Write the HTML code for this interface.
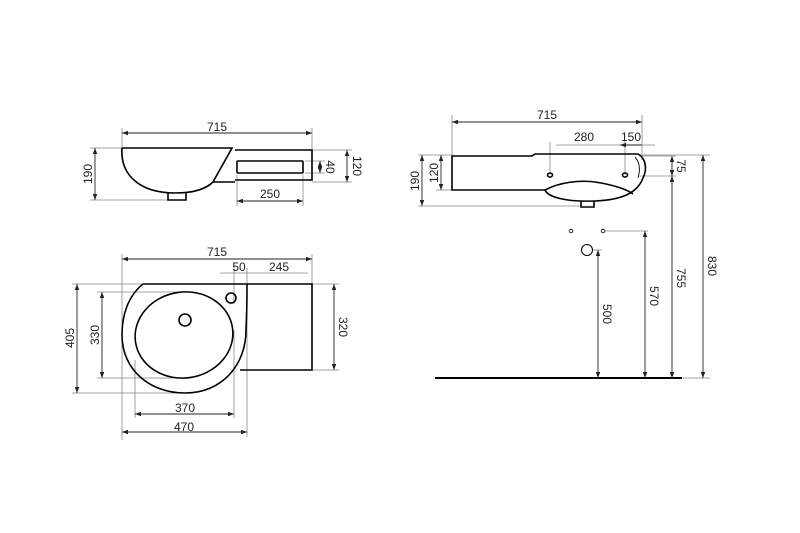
<!DOCTYPE html>
<html><head><meta charset="utf-8"><style>body{margin:0;background:#fff}svg{display:block}text{font-family:"Liberation Sans",sans-serif;font-size:12px;fill:#222}</style></head><body>
<svg width="800" height="533" viewBox="0 0 800 533" xmlns="http://www.w3.org/2000/svg">
<defs>
<marker id="a" viewBox="0 0 8 6" refX="8" refY="3" markerWidth="7" markerHeight="5" orient="auto-start-reverse"><path d="M0,0L8,3L0,6z" fill="#222"/></marker>
</defs>
<g stroke="#888" stroke-width="0.8" fill="none">
<path d="M122 128V148M312 128V175M90 148H122M90 200H185M305 161H325M305 173H325M312 150H352M312 182H352M237 175V206M303 175V206"/>
<path d="M122 254V440M312 254V284M220 273H308M234 262V304M247 268V437M72 284H143M72 393H190M97 292H180M97 378H185M135 360V418M234 330V418M312 284H339M312 370H339"/>
<path d="M452 115V165M642 115V160M556 145H655M550 142V175M625 140V175M418 155H452M418 206H580M436 155H452M436 190H452M640 156H676M640 176H676M640 155H710M605 231H648M592 250H602M680 378H710"/>
</g>
<g stroke="#222" stroke-width="0.9" fill="none" marker-start="url(#a)" marker-end="url(#a)">
<path d="M122 133H312"/><path d="M95 148V200"/><path d="M320 161V173"/><path d="M347 150V182"/><path d="M237 201H303"/>
<path d="M122 259H312"/><path d="M77 284V393"/><path d="M102 292V378"/><path d="M334 284V370"/><path d="M135 414H234"/><path d="M122 432H247"/>
<path d="M452 122H642"/><path d="M422 155V206"/><path d="M441 155V190"/><path d="M672 156V176"/><path d="M703 155V378"/><path d="M672 176V378"/><path d="M645 231V378"/><path d="M598 250V378"/>
</g>
<path d="M620 145H642" stroke="#222" stroke-width="0.9" marker-start="url(#a)"/>
<g stroke="#000" stroke-width="1.6" fill="none">
<path d="M122 148H232L213 182H235M235 180H312V150H235"/>
<path d="M122 148C120 175 140 193 175 193C195 193 207 188 213 182"/>
<path d="M168 193V200H186V193"/>
<rect x="237" y="161" width="66" height="12" rx="1"/>
<path d="M143 284H312V370H240"/>
<path d="M143 284C128 296 122 315 122 335C122 370 150 393 185 393C222 393 246 365 246 330C247 310 247 295 247 284"/>
<ellipse cx="184" cy="335" rx="49" ry="43" transform="rotate(-8 184 335)"/>
<circle cx="185" cy="320" r="6"/>
<circle cx="231" cy="298" r="5"/>
<path d="M452 156H532L535 154H638C648 160 646 172 643 178C637 194 620 200 595 201C565 202 548 197 545 190H452Z"/>
<path d="M545 190C560 182 580 180 595 182C615 185 628 190 633 194"/>
<path d="M581 201V207H594V201"/>
<ellipse cx="550" cy="175" rx="2.5" ry="2"/><ellipse cx="625" cy="175" rx="2.5" ry="2"/>
<path d="M635 157Q642 165 638 178" stroke-width="0.9"/>
<circle cx="587" cy="250" r="5.5" stroke-width="1"/>
<circle cx="571" cy="231" r="1.8" stroke-width="0.8"/><circle cx="603" cy="231" r="1.8" stroke-width="0.8"/>
<path d="M435 378H682" stroke-width="2"/>
</g>
<text x="217" y="131" text-anchor="middle">715</text>
<text x="270" y="198" text-anchor="middle">250</text>
<text transform="translate(92 174) rotate(-90)" text-anchor="middle">190</text>
<text transform="translate(326 167) rotate(90)" text-anchor="middle">40</text>
<text transform="translate(353 166) rotate(90)" text-anchor="middle">120</text>
<text x="217" y="256" text-anchor="middle">715</text>
<text x="239" y="271" text-anchor="middle">50</text>
<text x="279" y="271" text-anchor="middle">245</text>
<text transform="translate(74 338) rotate(-90)" text-anchor="middle">405</text>
<text transform="translate(99 335) rotate(-90)" text-anchor="middle">330</text>
<text transform="translate(339 327) rotate(90)" text-anchor="middle">320</text>
<text x="185" y="412" text-anchor="middle">370</text>
<text x="184" y="431" text-anchor="middle">470</text>
<text x="547" y="119" text-anchor="middle">715</text>
<text x="584" y="141" text-anchor="middle">280</text>
<text x="631" y="141" text-anchor="middle">150</text>
<text transform="translate(419 181) rotate(-90)" text-anchor="middle">190</text>
<text transform="translate(438 173) rotate(-90)" text-anchor="middle">120</text>
<text transform="translate(677 166) rotate(90)" text-anchor="middle">75</text>
<text transform="translate(603 314) rotate(90)" text-anchor="middle">500</text>
<text transform="translate(650 296) rotate(90)" text-anchor="middle">570</text>
<text transform="translate(677 278) rotate(90)" text-anchor="middle">755</text>
<text transform="translate(708 266) rotate(90)" text-anchor="middle">830</text>
</svg>
</body></html>
